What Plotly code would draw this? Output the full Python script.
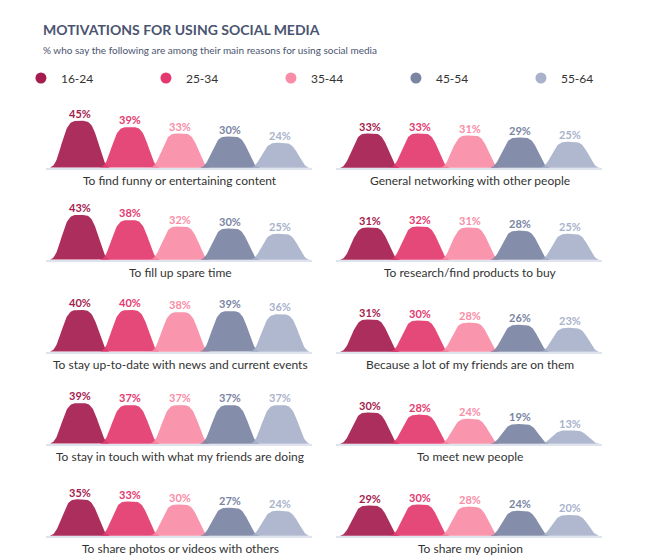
import numpy as np
import plotly.graph_objects as go

groups = ['16-24', '25-34', '35-44', '45-54', '55-64']
colors = ['#A51C4E', '#E3396E', '#F98CA6', '#7A84A3', '#A9B2CB']

motivations = [
    'To find funny or entertaining content',
    'General networking with other people',
    'To fill up spare time',
    'To research/find products to buy',
    'To stay up-to-date with news and current events',
    'Because a lot of my friends are on them',
    'To stay in touch with what my friends are doing',
    'To meet new people',
    'To share photos or videos with others',
    'To share my opinion',
]
values = [
    [45, 39, 33, 30, 24],
    [33, 33, 31, 29, 25],
    [43, 38, 32, 30, 25],
    [31, 32, 31, 28, 25],
    [40, 40, 38, 39, 36],
    [31, 30, 28, 26, 23],
    [39, 37, 37, 37, 37],
    [30, 28, 24, 19, 13],
    [35, 33, 30, 27, 24],
    [29, 30, 28, 24, 20],
]

W, H = 647, 557
baselines = [160, 252, 344, 436, 528]
col_px = [(42, 302), (332, 592)]

fig = go.Figure()
layout = {}

# forma de "montaña" para cada barra
t = np.linspace(-1, 1, 81)
bump = np.exp(-(t / 0.68) ** 4)
half = 0.6

for i, (mot, vals) in enumerate(zip(motivations, values)):
    row, col = divmod(i, 2)
    n = i + 1
    xa, ya = ('x' if n == 1 else f'x{n}'), ('y' if n == 1 else f'y{n}')
    x0, x1 = col_px[col]
    base = baselines[row]
    for j, v in enumerate(vals):
        fig.add_trace(go.Scatter(
            x=j + t * half, y=v * bump, fill='toself', mode='lines',
            line=dict(width=0), fillcolor=colors[j], opacity=0.92,
            hoverinfo='skip', showlegend=False, xaxis=xa, yaxis=ya))
        fig.add_trace(go.Scatter(
            x=[j], y=[v], mode='text', text=[f'{v}%'], textposition='top center',
            textfont=dict(family='Lato', size=11, color=colors[j], weight='bold'),
            showlegend=False, hoverinfo='skip', xaxis=xa, yaxis=ya))
    suf = '' if n == 1 else str(n)
    layout['xaxis' + suf] = dict(domain=[x0 / W, x1 / W], range=[-0.6, 4.6], visible=False,
                                 anchor=ya, fixedrange=True)
    layout['yaxis' + suf] = dict(domain=[1 - base / H, 1 - (base - 64) / H], range=[0, 61],
                                 visible=False, anchor=xa, fixedrange=True)
    fig.add_shape(type='line', xref='paper', yref='paper', x0=(x0 - 4) / W, x1=(x1 + 2) / W,
                  y0=1 - (base + 1) / H, y1=1 - (base + 1) / H,
                  line=dict(color='#D5DAE8', width=1.5))
    fig.add_annotation(text=mot, xref='paper', yref='paper', x=(x0 + x1) / 2 / W,
                       y=1 - (base + 12) / H, showarrow=False, xanchor='center', yanchor='middle',
                       font=dict(family='Lato', size=12, color='#333333'))

# leyenda
for j, g in enumerate(groups):
    fig.add_trace(go.Scatter(x=[None], y=[None], mode='markers', name=g,
                             marker=dict(color=colors[j], size=11)))

fig.update_layout(
    **layout,
    width=W, height=H, margin=dict(l=0, r=0, t=0, b=0),
    paper_bgcolor='white', plot_bgcolor='white',
    showlegend=True,
    legend=dict(orientation='h', x=0.02, y=1 - 70 / H, yanchor='middle', xanchor='left',
                entrywidth=80, font=dict(family='Lato', size=12, color='#333333'),
                itemclick=False, itemwidth=30),
)
fig.add_annotation(text='<b>MOTIVATIONS FOR USING SOCIAL MEDIA</b>', xref='paper', yref='paper',
                   x=33 / W, y=1 - 22 / H, xanchor='left', yanchor='middle', showarrow=False,
                   font=dict(family='Lato', size=14, color='#4B5470'))
fig.add_annotation(text='% who say the following are among their main reasons for using social media',
                   xref='paper', yref='paper', x=33 / W, y=1 - 42 / H, xanchor='left',
                   yanchor='middle', showarrow=False,
                   font=dict(family='Lato', size=10, color='#4B5470'))

fig.write_html('out.html')
